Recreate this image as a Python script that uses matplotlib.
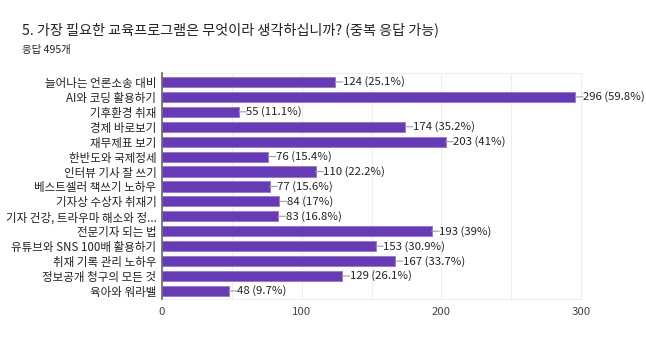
import matplotlib
matplotlib.use("Agg")
import matplotlib.pyplot as plt

plt.rcParams['font.family'] = ['Noto Sans CJK KR', 'DejaVu Sans']

categories = ["늘어나는 언론소송 대비", "AI와 코딩 활용하기", "기후환경 취재", "경제 바로보기", "재무제표 보기",
              "한반도와 국제정세", "인터뷰 기사 잘 쓰기", "베스트셀러 책쓰기 노하우", "기자상 수상자 취재기",
              "기자 건강, 트라우마 해소와 정...", "전문기자 되는 법", "유튜브와 SNS 100배 활용하기",
              "취재 기록 관리 노하우", "정보공개 청구의 모든 것", "육아와 워라밸"]
counts = [124, 296, 55, 174, 203, 76, 110, 77, 84, 83, 193, 153, 167, 129, 48]
percents = ["25.1%", "59.8%", "11.1%", "35.2%", "41%", "15.4%", "22.2%", "15.6%", "17%", "16.8%",
            "39%", "30.9%", "33.7%", "26.1%", "9.7%"]
xticks = [0, 100, 200, 300]

fig = plt.figure(figsize=(6.46, 3.6), dpi=100)
ax = fig.add_axes([162/646, 1-299/360, 419/646, 226/360])

ys = list(range(len(categories)))
ax.barh(ys, counts, height=0.68, color='#673AB7', edgecolor='#9575CD', linewidth=0.6, zorder=3)

for y, c, p in zip(ys, counts, percents):
    ax.annotate("", xy=(c, y), xytext=(c + 5.5, y),
                arrowprops=dict(arrowstyle='-', color='#9e9e9e', lw=0.8, shrinkA=0, shrinkB=0), zorder=4)
    ax.text(c + 5.5, y, f"{c} ({p})", va='center', ha='left', fontsize=8.2, color='#222222',
            clip_on=False, zorder=5)

ax.set_xlim(0, 300)
ax.set_ylim(14.54, -0.6)
ax.set_yticks(ys)
ax.set_yticklabels(categories, fontsize=8.3, color='#222222')
ax.set_xticks(xticks)
ax.set_xticklabels([str(t) for t in xticks], fontsize=8.2, color='#444444')
ax.set_xticks([50, 150, 250], minor=True)
ax.tick_params(axis='both', length=0, pad=4)
ax.tick_params(axis='x', pad=6)
ax.tick_params(axis='x', which='minor', length=0)
ax.grid(axis='x', which='both', color='#eeeeee', linewidth=0.8, zorder=0)
for s in ['top', 'right', 'bottom']:
    ax.spines[s].set_color('#eeeeee')
    ax.spines[s].set_linewidth(0.8)
ax.spines['left'].set_color('#666666')
ax.spines['left'].set_linewidth(1.2)
ax.spines['left'].set_zorder(6)

fig.text(22/646, 1-30/360, "5. 가장 필요한 교육프로그램은 무엇이라 생각하십니까? (중복 응답 가능)",
         fontsize=10.2, color='#202124', va='center', ha='left')
fig.text(22/646, 1-50/360, "응답 495개", fontsize=7.5, color='#202124', va='center', ha='left')

fig.savefig("out.png", dpi=100, facecolor='white')
